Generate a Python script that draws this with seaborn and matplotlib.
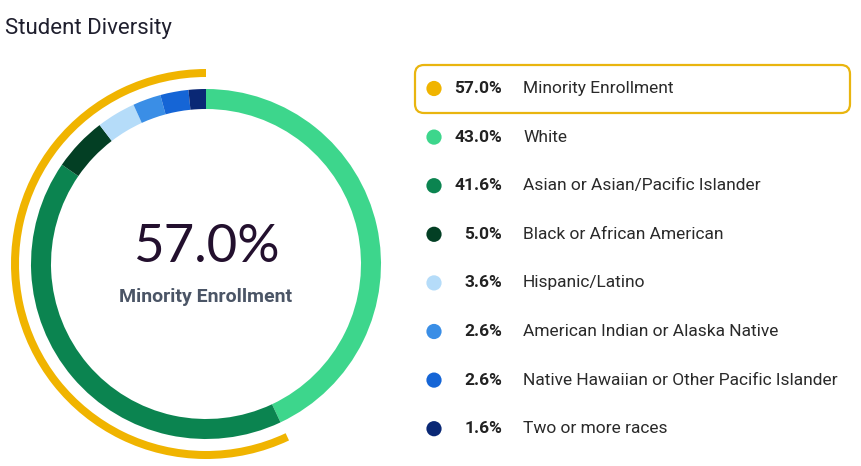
import matplotlib.pyplot as plt
from matplotlib.patches import FancyBboxPatch
import pandas as pd
import seaborn as sns

# Data
title = 'Student Diversity'
minority_label = 'Minority Enrollment'
minority_share = 57.0
groups = ['White', 'Asian or Asian/Pacific Islander', 'Black or African American', 'Hispanic/Latino',
          'American Indian or Alaska Native', 'Native Hawaiian or Other Pacific Islander', 'Two or more races']
shares = [43.0, 41.6, 5.0, 3.6, 2.6, 2.6, 1.6]
group_colors = ['#3dd68c', '#0b8450', '#033f24', '#b5dcf9', '#3a8ee6', '#1565d6', '#0a2875']
minority_color = '#f0b400'

sns.set_theme(style='white')
plt.rcParams['font.family'] = ['Roboto', 'DejaVu Sans']

W, H = 862, 466
fig = plt.figure(figsize=(W / 100, H / 100), dpi=100)

# Overlay axes in pixel coordinates for texts and legend
ax = fig.add_axes([0, 0, 1, 1])
ax.set_xlim(0, W)
ax.set_ylim(H, 0)
ax.axis('off')

# Donut axes
cx, cy, half = 206, 264, 200
pie_ax = fig.add_axes([(cx - half) / W, (H - cy - half) / H, 2 * half / W, 2 * half / H])
pie_ax.pie(shares, radius=175, startangle=90, counterclock=False, colors=group_colors,
           wedgeprops=dict(width=20, linewidth=0))
pie_ax.pie([minority_share, 100 - minority_share], radius=195, startangle=90, counterclock=True,
           colors=[minority_color, 'none'], wedgeprops=dict(width=8, linewidth=0))
pie_ax.set_xlim(-half, half)
pie_ax.set_ylim(-half, half)
pie_ax.set_aspect('equal')
pie_ax.axis('off')

# Title and center text
ax.text(5, 28.5, title, fontsize=16, va='center', ha='left', color='#1f1f2e')
ax.text(cx, 248, f'{minority_share:.1f}%', ha='center', va='center', fontsize=38,
        family=['Lato', 'DejaVu Sans'], fontweight='normal', color='#23102e')
ax.text(cx, 297, minority_label, ha='center', va='center', fontsize=14,
        fontweight='bold', color='#4b5566')

# Legend
legend_df = pd.DataFrame({
    'label': [minority_label] + groups,
    'pct': [minority_share] + shares,
    'color': [minority_color] + group_colors,
})
legend_df['row_y'] = 88.5 + legend_df.index * 48.6
legend_df['dot_x'] = 434
sns.scatterplot(data=legend_df, x='dot_x', y='row_y', hue='label',
                palette=dict(zip(legend_df['label'], legend_df['color'])),
                s=120, linewidth=0, legend=False, ax=ax)
ax.set_xlim(0, W)
ax.set_ylim(H, 0)
ax.axis('off')

for _, row in legend_df.iterrows():
    ax.text(502, row['row_y'], f"{row['pct']:.1f}%", ha='right', va='center',
            fontsize=12.5, fontweight='bold', color='#222222')
    ax.text(523, row['row_y'], row['label'], ha='left', va='center',
            fontsize=12.5, color='#2a2a2a')

ax.add_patch(FancyBboxPatch((415, 65), 435, 48, boxstyle='round,pad=0,rounding_size=9',
                            fc='none', ec='#e9b50f', lw=1.6))

fig.savefig('out.png', dpi=100)
